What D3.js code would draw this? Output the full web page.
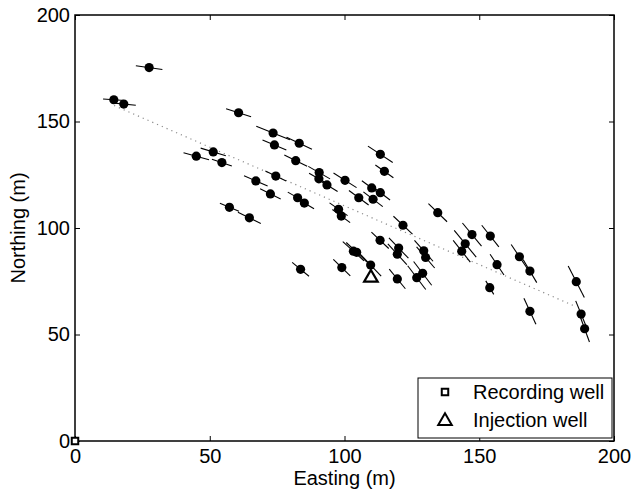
<!DOCTYPE html>
<html>
<head>
<meta charset="utf-8">
<script src="https://cdn.jsdelivr.net/npm/d3@7"></script>
<style>
  body { margin: 0; background: #fff; }
  text { font-family: "Liberation Sans", Arial, Helvetica, sans-serif; }
</style>
</head>
<body>
<div id="container"></div>
<script>
// event locations (metres)
let eastings = [27.5, 14.4, 18.1, 60.7, 45.0, 51.3, 54.5, 67.1, 73.5, 74.0,
  83.2, 81.9, 113.3, 114.8, 74.5, 90.6, 90.5, 93.5, 100.2, 110.1,
  113.3, 105.3, 110.6, 72.5, 82.6, 85.1, 64.7, 97.8, 98.8, 134.6,
  121.7, 113.2, 103.3, 104.5, 120.1, 119.6, 129.4, 130.1, 109.7, 83.7,
  99.0, 119.6, 129.0, 126.8, 147.3, 144.8, 143.5, 154.1, 156.6, 164.9,
  168.8, 153.9, 186.0, 168.8, 187.8, 189.1, 57.3];
let northings = [175.3, 160.2, 158.2, 154.1, 133.7, 135.7, 130.7, 122.1, 144.6, 139.0,
  139.8, 131.6, 134.6, 126.6, 124.4, 126.0, 123.1, 120.2, 122.4, 118.8,
  116.6, 114.2, 113.5, 116.0, 114.2, 111.7, 104.8, 108.8, 105.6, 107.2,
  101.3, 94.2, 89.1, 88.6, 90.6, 87.7, 89.3, 86.2, 82.6, 80.6,
  81.4, 76.1, 78.7, 76.7, 96.9, 92.6, 89.1, 96.2, 82.8, 86.5,
  79.8, 72.0, 74.8, 60.9, 59.6, 52.7, 109.7];
// bar orientation for each event (degrees from east, map coordinates)
let strikes = [-10, -5, -7, -22, -19, -21, -23, -29, -27, -28,
  -31, -32, -40, -42, -31, -36, -36, -38, -39, -43,
  -44, -43, -44, -32, -36, -37, -32, -42, -43, -51,
  -50, -50, -49, -50, -53, -54, -55, -56, -53, -46,
  -51, -57, -59, -59, -57, -57, -58, -58, -62, -62,
  -65, -65, -68, -70, -72, -74, -28];
// bar length for each event (metres)
let barLengths = [10, 8, 9, 10, 10, 10, 8, 10, 14, 10,
  11, 10, 12, 9, 9, 10, 9, 10, 11, 10,
  10, 10, 10, 9, 9, 9, 10, 9, 9, 11,
  11, 10, 12, 12, 12, 12, 12, 12, 13, 9,
  10, 11, 13, 13, 13, 15, 12, 12, 11, 13,
  12, 7, 16, 13, 13, 13, 8];

let trendEast = [14.5, 186];
let trendNorth = [157.5, 63];

let recordingWell = [0, 0];
let injectionWell = [109.8, 77.1];

let tickValues = [0, 50, 100, 150, 200];
let legendLabels = ["Recording well", "Injection well"];

let w = 633;
let h = 489;
let padLeft = 75, padRight = 614, padTop = 15, padBottom = 441;

let viz = d3.select("#container")
  .append("svg")
    .attr("width", w)
    .attr("height", h)
;

let xScale = d3.scaleLinear().domain([0, 200]).range([padLeft, padRight]);
let yScale = d3.scaleLinear().domain([0, 200]).range([padBottom, padTop]);

// axes, MATLAB style: ticks pointing inward on all four sides
let xAxis = d3.axisBottom(xScale).tickValues(tickValues).tickSizeInner(-5).tickSizeOuter(0).tickPadding(8);
let yAxis = d3.axisLeft(yScale).tickValues(tickValues).tickSizeInner(-5).tickSizeOuter(0).tickPadding(5);
let xAxisTop = d3.axisTop(xScale).tickValues(tickValues).tickSizeInner(-5).tickSizeOuter(0).tickFormat("");
let yAxisRight = d3.axisRight(yScale).tickValues(tickValues).tickSizeInner(-5).tickSizeOuter(0).tickFormat("");

let xAxisGroup = viz.append("g").attr("transform", "translate(0," + padBottom + ")").call(xAxis);
let yAxisGroup = viz.append("g").attr("transform", "translate(" + padLeft + ",0)").call(yAxis);
let topGroup = viz.append("g").attr("transform", "translate(0," + padTop + ")").call(xAxisTop);
let rightGroup = viz.append("g").attr("transform", "translate(" + padRight + ",0)").call(yAxisRight);

viz.selectAll(".domain").remove();
viz.selectAll(".tick line").attr("stroke", "#000").attr("stroke-width", 1);
viz.selectAll(".tick text")
  .attr("font-size", "20px")
  .attr("fill", "#000")
  .style("font-family", "'Liberation Sans', Arial, sans-serif");

viz.append("rect")
  .attr("x", padLeft)
  .attr("y", padTop)
  .attr("width", padRight - padLeft)
  .attr("height", padBottom - padTop)
  .attr("fill", "none")
  .attr("stroke", "#000")
  .attr("stroke-width", 1.5)
;

// dotted trend through the cloud
viz.append("line")
  .attr("x1", xScale(trendEast[0]))
  .attr("y1", yScale(trendNorth[0]))
  .attr("x2", xScale(trendEast[1]))
  .attr("y2", yScale(trendNorth[1]))
  .attr("stroke", "#8c8c8c")
  .attr("stroke-width", 1.2)
  .attr("stroke-dasharray", "1.2,4")
;

let events = eastings.map(function(e, i){
  return {
    "east": e,
    "north": northings[i],
    "strike": strikes[i],
    "len": barLengths[i]
  };
});

let graphgroup = viz.append("g").attr("class", "graphgroup");

function barEnd(d, sign, axis){
  let a = d.strike * Math.PI / 180;
  if(axis == "x"){
    return xScale(d.east + sign * d.len / 2 * Math.cos(a));
  }
  return yScale(d.north + sign * d.len / 2 * Math.sin(a));
}

graphgroup.selectAll(".bar").data(events).enter()
  .append("line")
    .attr("class", "bar")
    .attr("x1", function(d){ return barEnd(d, -1, "x"); })
    .attr("y1", function(d){ return barEnd(d, -1, "y"); })
    .attr("x2", function(d){ return barEnd(d, 1, "x"); })
    .attr("y2", function(d){ return barEnd(d, 1, "y"); })
    .attr("stroke", "#000")
    .attr("stroke-width", 1.1)
;

graphgroup.selectAll(".datapoint").data(events).enter()
  .append("circle")
    .attr("class", "datapoint")
    .attr("cx", function(d){ return xScale(d.east); })
    .attr("cy", function(d){ return yScale(d.north); })
    .attr("r", 4.6)
    .attr("fill", "#000")
;

// wells
let squareSym = d3.symbol().type(d3.symbolSquare).size(42);
let triangleSym = d3.symbol().type(d3.symbolTriangle).size(80);

viz.append("path")
  .attr("d", squareSym())
  .attr("transform", "translate(" + xScale(recordingWell[0]) + "," + yScale(recordingWell[1]) + ")")
  .attr("fill", "#fff")
  .attr("stroke", "#000")
  .attr("stroke-width", 2)
;
viz.append("path")
  .attr("d", triangleSym())
  .attr("transform", "translate(" + xScale(injectionWell[0]) + "," + (yScale(injectionWell[1]) + 1) + ")")
  .attr("fill", "#fff")
  .attr("stroke", "#000")
  .attr("stroke-width", 2.2)
;

// legend
let legend = viz.append("g").attr("class", "legend");
legend.append("rect")
  .attr("x", 418)
  .attr("y", 378)
  .attr("width", 194)
  .attr("height", 60)
  .attr("fill", "#fff")
  .attr("stroke", "#000")
  .attr("stroke-width", 1)
;
let legendSymbols = [squareSym, triangleSym];
legendLabels.forEach(function(label, i){
  let cy = 392 + i * 28;
  legend.append("path")
    .attr("d", legendSymbols[i]())
    .attr("transform", "translate(445," + (cy + (i == 1 ? 1 : 0)) + ")")
    .attr("fill", "#fff")
    .attr("stroke", "#000")
    .attr("stroke-width", 2);
  legend.append("text")
    .attr("x", 473)
    .attr("y", cy + 7)
    .attr("font-size", "20px")
    .attr("fill", "#000")
    .text(label);
});

// axis titles
viz.append("text")
  .attr("x", (padLeft + padRight) / 2)
  .attr("y", 485)
  .attr("text-anchor", "middle")
  .attr("font-size", "20px")
  .text("Easting (m)");

viz.append("text")
  .attr("transform", "translate(25," + ((padTop + padBottom) / 2) + ") rotate(-90)")
  .attr("text-anchor", "middle")
  .attr("font-size", "20px")
  .text("Northing (m)");
</script>
</body>
</html>
